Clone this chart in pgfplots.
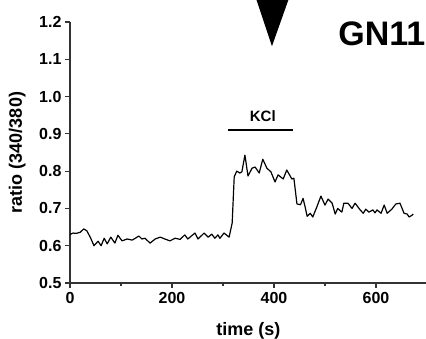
\documentclass[border=0pt]{standalone}
\usepackage{fontspec}
\setmainfont{Liberation Sans}
\usepackage{pgfplots}
\pgfplotsset{compat=1.18}
\definecolor{axgray}{HTML}{333333}
\begin{document}
\begin{tikzpicture}
\begin{axis}[
  scale only axis,
  width=357pt, height=261pt,
  xmin=0, xmax=700, ymin=0.5, ymax=1.2,
  axis lines*=left,
  axis line style={axgray, line width=1.4pt},
  every tick/.style={axgray, line width=1.2pt},
  tick align=outside,
  major tick length=5pt, minor tick length=3pt,
  xtick={0,200,400,600},
  minor xtick={100,300,500,700},
  ytick={0.5,0.6,...,1.21},
  yticklabel style={/pgf/number format/.cd, fixed, fixed zerofill, precision=1},
  /pgf/number format/assume math mode=true,
  ticklabel style={font=\bfseries\fontsize{16}{19}\selectfont},
  xticklabel style={yshift=-1pt},
  xlabel={time (s)}, ylabel={ratio (340/380)},
  every axis x label/.style={at={(axis description cs:0.5,-0.184)}, anchor=center, font=\bfseries\fontsize{18}{21}\selectfont},
  every axis y label/.style={at={(axis description cs:-0.148,0.5)}, rotate=90, anchor=center, font=\bfseries\fontsize{18}{21}\selectfont},
  clip=false,
]
\addplot[black, line width=1.2pt, line join=round] coordinates {
(0,0.630)(6,0.634)(12,0.633)(20,0.636)(27,0.645)(33,0.640)(40,0.622)(47,0.600)
(55,0.612)(61,0.600)(67,0.620)(73,0.605)(80,0.623)(88,0.607)(94,0.628)(102,0.613)
(112,0.618)(122,0.615)(128,0.620)(135,0.626)(141,0.618)(147,0.620)(157,0.607)
(167,0.618)(177,0.623)(186,0.618)(196,0.613)(206,0.620)(216,0.617)(225,0.629)
(231,0.618)(245,0.634)(251,0.618)(263,0.634)(271,0.623)(278,0.631)(284,0.620)
(290,0.629)(294,0.620)(302,0.634)(312,0.623)(318,0.661)(322,0.785)(327,0.800)
(333,0.795)(337,0.798)(343,0.843)(349,0.787)(357,0.808)(363,0.811)(371,0.795)
(378,0.832)(386,0.808)(394,0.798)(402,0.771)(408,0.790)(418,0.779)(425,0.803)
(435,0.779)(439,0.781)(445,0.712)(452,0.710)(457,0.727)(461,0.704)(465,0.679)
(471,0.687)(476,0.677)(484,0.704)(492,0.733)(500,0.709)(506,0.725)(514,0.714)
(520,0.685)(525,0.700)(533,0.690)(537,0.714)(545,0.714)(553,0.700)(559,0.714)
(569,0.696)(575,0.687)(580,0.698)(586,0.690)(594,0.696)(598,0.688)(602,0.696)
(610,0.687)(616,0.709)(622,0.687)(631,0.698)(639,0.712)(647,0.714)(655,0.687)
(661,0.685)(665,0.677)(671,0.682)(673,0.685)
};
\addplot[black, line width=1.4pt] coordinates {(310,0.91)(437,0.91)};
\node[font=\bfseries\fontsize{15}{18}\selectfont, anchor=center] at (axis cs:378,0.948) {KCl};
\addplot[black, fill=black, draw=none] coordinates {(363,1.27)(396,1.135)(431,1.27)} -- cycle;
\node[font=\bfseries\fontsize{34}{40}\selectfont, anchor=base east, inner sep=0pt] at (axis cs:697,1.138) {GN11};
\end{axis}
\pgfresetboundingbox
\useasboundingbox (-70pt,-56pt) rectangle (356pt,283pt);
\end{tikzpicture}
\end{document}
